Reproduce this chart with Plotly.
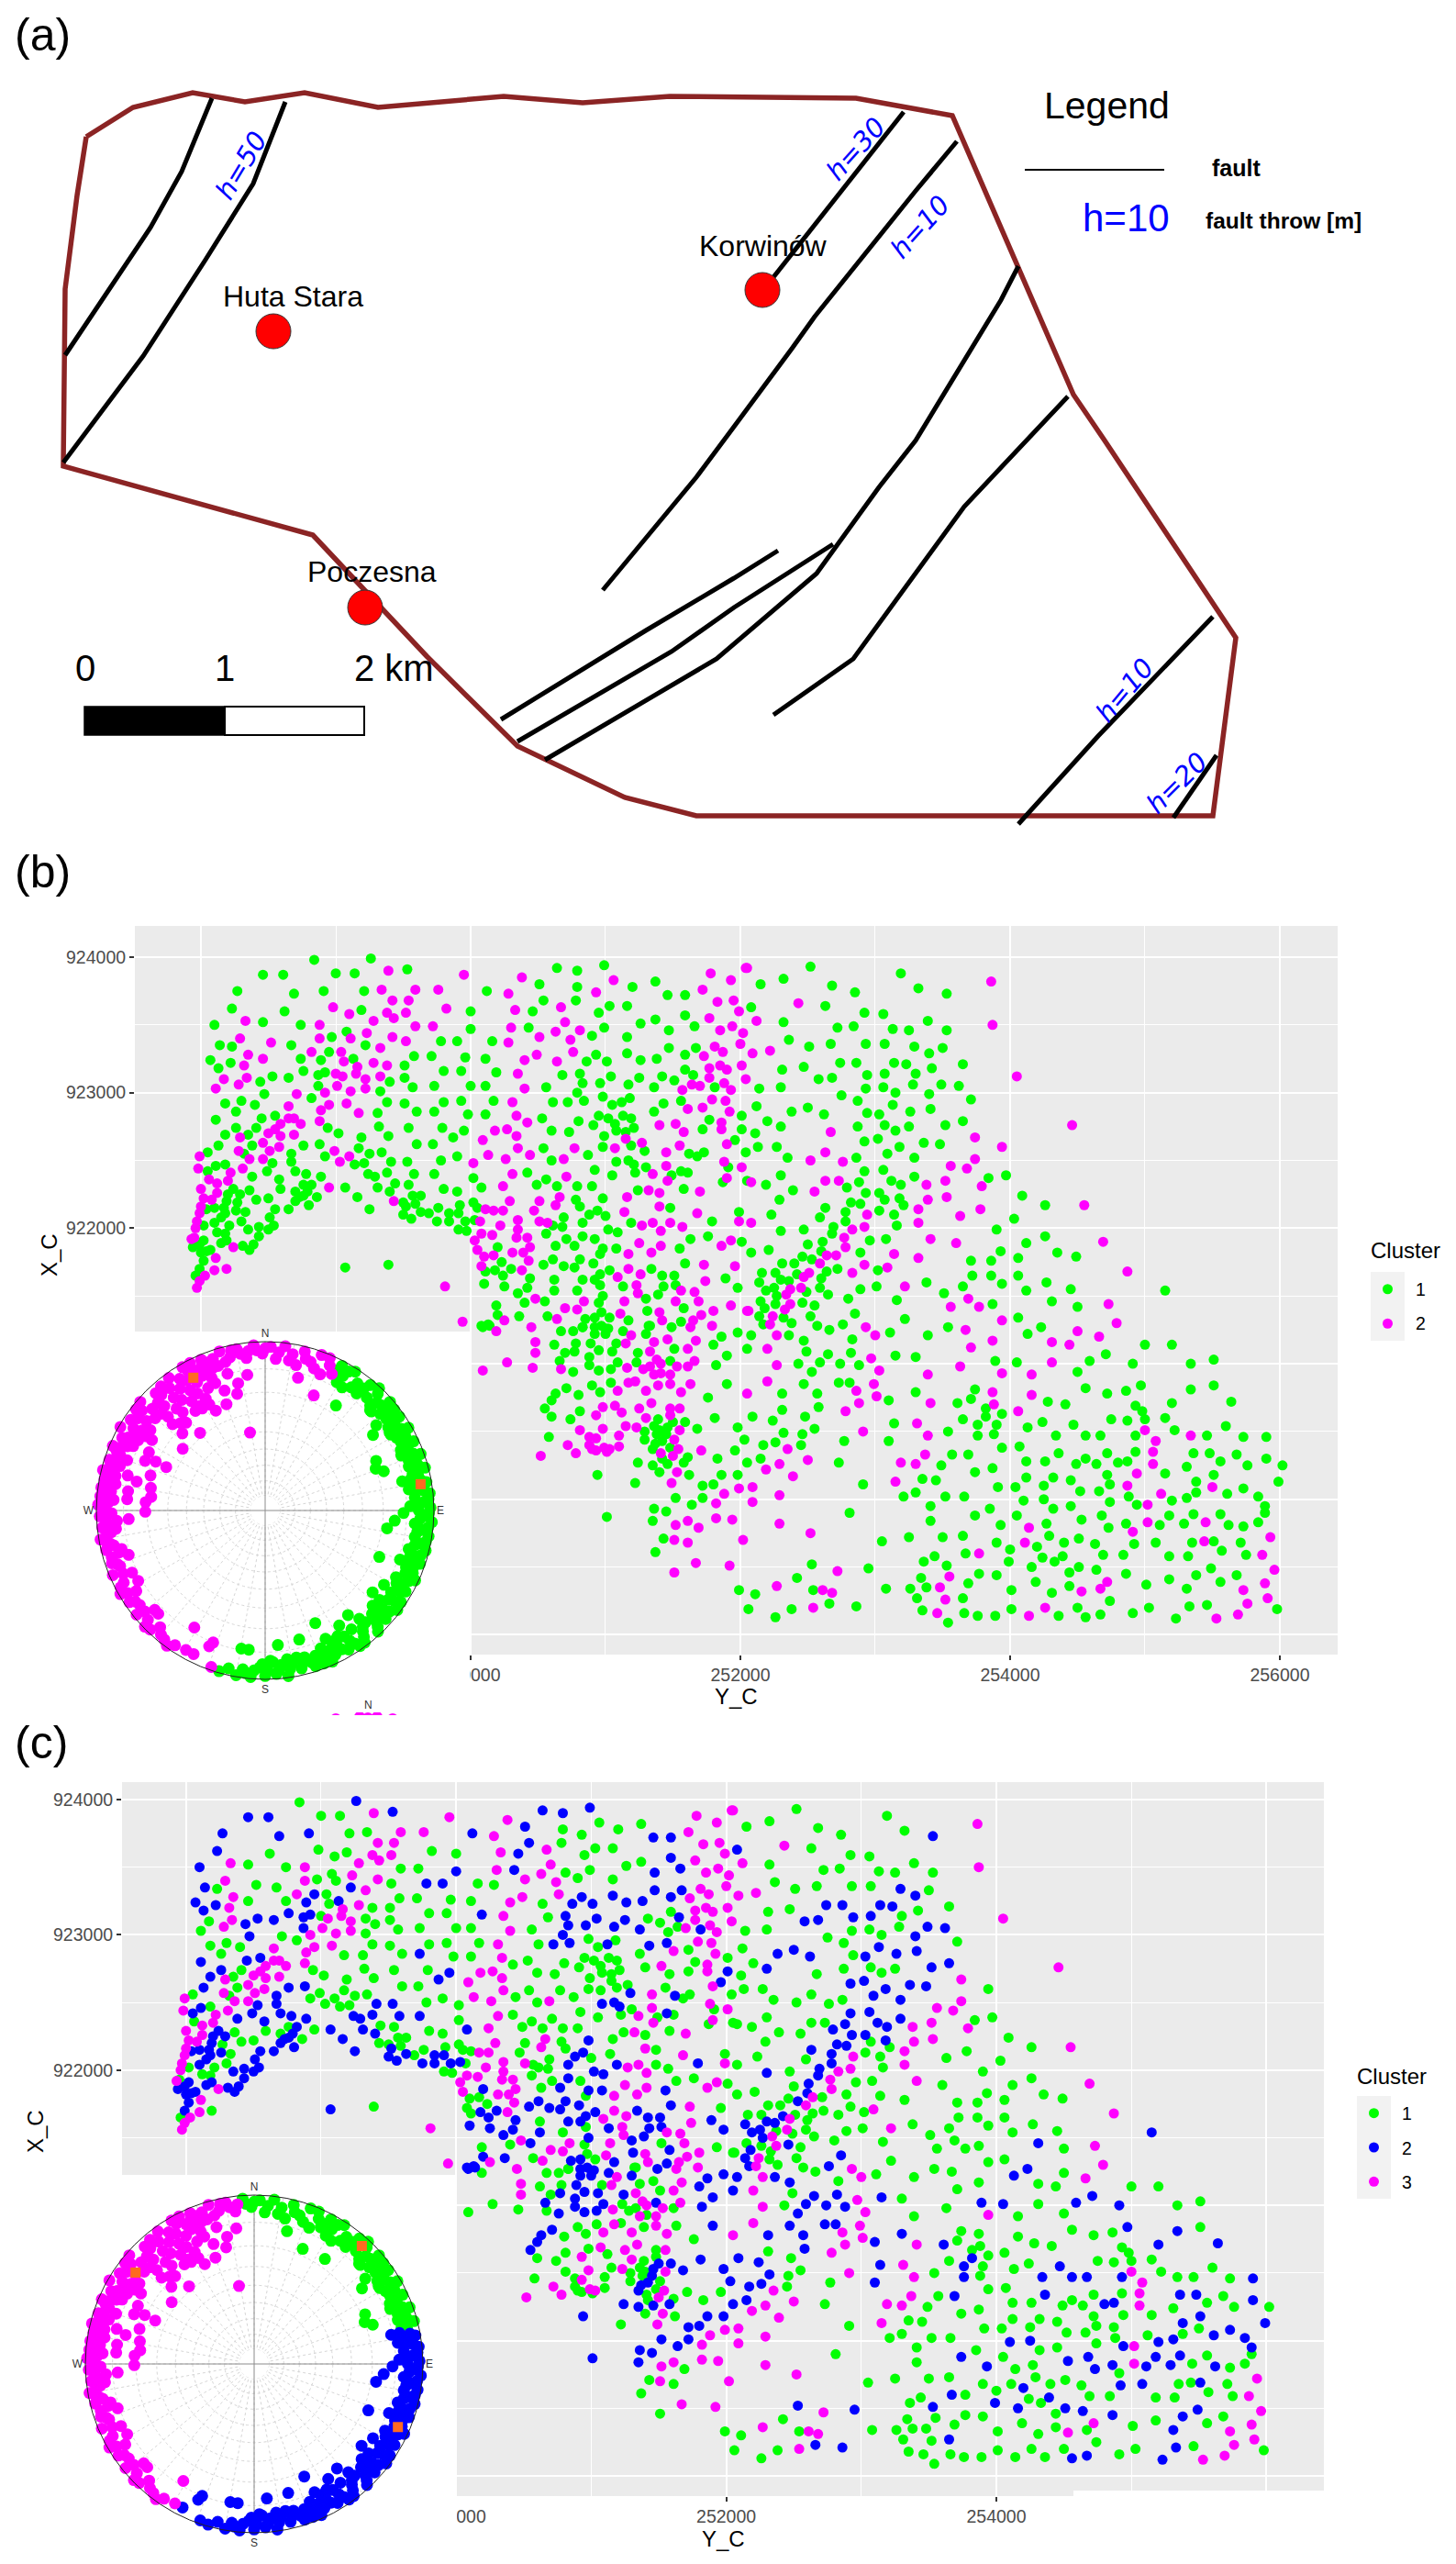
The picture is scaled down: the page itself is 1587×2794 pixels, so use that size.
#!/usr/bin/env python3
"""Fault map and clustered scatter maps with stereonet insets."""
import plotly.graph_objects as go

W, H = 1587, 2794
FONT = "Liberation Sans"
GREEN, BLUE, MAGENTA = "#00FF00", "#0000FF", "#FF00FF"

# ------------------------------------------------------------------ #
# Panel (a): map units
boundary = [(94, 149), (145, 117), (210, 101), (267, 111), (332, 101), (412, 117), (549, 105),
            (635, 112), (730, 105), (933, 107), (1038, 126), (1110, 290), (1170, 430), (1204, 480),
            (1347, 695), (1322, 889), (759, 889), (681, 869), (564, 813), (465, 715), (341, 583),
            (69, 508), (71, 315), (84, 213), (94, 149)]
faults = [
    [(231, 107), (198, 187), (164, 248), (71, 387)],
    [(311, 111), (276, 200), (224, 283), (156, 388), (87, 480), (69, 504)],
    [(985, 122), (832, 316)],
    [(1043, 154), (998, 208), (888, 345), (863, 380), (800, 465), (759, 520), (657, 643)],
    [(1110, 290), (1091, 327), (998, 480), (958, 531), (890, 625), (781, 718), (594, 828)],
    [(564, 808), (732, 710), (800, 662), (908, 593)],
    [(546, 784), (704, 687), (800, 630), (848, 600)],
    [(1164, 432), (1051, 552), (930, 718), (843, 779)],
    [(1322, 672), (1197, 802), (1110, 898)],
    [(1326, 823), (1279, 891)],
]
town_x = [298, 831, 398]
town_y = [361, 316, 662]

# ------------------------------------------------------------------ #
# Panels (b) and (c): same points, grouped by their cluster in c and b
c1_b1 = [(248840,923980),(249000,923880),(249140,923880),(250790,923780),(251200,923780),(249210,923750),
(250780,923680),(251370,923820),(248620,923600),(249190,923610),(250950,923590),(251030,923640),(251160,923640),
(248740,923500),(248460,923520),(250990,923480),(251260,923510),(251370,923540),(250000,923600),(248970,923410),
(249080,923450),(248670,923350),(248230,923340),(250160,923380),(250900,923420),(251160,923410),(248740,923250),
(249580,923270),(249710,923270),(249960,923260),(250110,923250),(249510,923200),(249800,923160),(249930,923160),
(250680,923130),(251590,923170),(249510,923110),(249400,923080),(251420,923120),(251510,923090),(249570,923040),
(249730,923050),(250000,923050),(250110,923050),(250560,923040),(249330,923010),(248820,922960),(248300,922940),
(249380,922930),(249800,922930),(249930,922940),(250170,922940),(248180,922920),(248400,922910),(249510,922920),
(250610,922930),(250980,922970),(251050,922910),(251180,922960),(248260,922860),(249600,922860),(249310,922850),
(250110,922840),(249980,922840),(250950,922830),(251130,922830),(251190,922810),(251360,922860),(252010,922830),
(250530,922810),(250800,922790),(251070,922770),(251020,922810),(251770,922800),(248410,922740),(248940,922740),
(249320,922750),(249540,922740),(249790,922740),(250600,922720),(250910,922760),(251080,922720),(251150,922710),
(251210,922740),(251720,922730),(249020,922700),(248350,922690),(250730,922710),(250990,922680),(249190,922670),
(249390,922680),(249600,922620),(249720,922620),(248380,922610),(249170,922590),(250540,922590),(250980,922600),
(251190,922610),(248050,922560),(249250,922550),(249340,922560),(250870,922540),(251680,922530),(251730,922560),
(252040,922560),(248320,922550),(248920,922530),(249900,922530),(250600,922500),(249780,922500),(248180,922470),
(249140,922470),(249210,922480),(251300,922450),(251910,922450),(250420,922410),(250920,922430),(251050,922390),
(251220,922410),(251490,922390),(251610,922410),(250020,922370),(249440,922330),(249540,922320),(250560,922360),
(250490,922320),(250640,922310),(250790,922310),(250900,922310),(251870,922340),(252050,922350),(248760,922320),
(251240,922280),(251580,922290),(248360,922280),(248590,922290),(248700,922270),(249800,922290),(249900,922270),
(249570,922240),(249630,922240),(248860,922230),(248270,922190),(248410,922210),(248500,922220),(250780,922210),
(249500,922190),(249590,922180),(249920,922170),(250020,922190),(250810,922160),(251480,922150),(248330,922120),
(249760,922150),(250050,922150),(251990,922120),(248300,922050),(249690,922110),(250690,922080),(251000,922090),
(250610,922020),(250680,922010),(248020,922020),(248210,922020),(250560,921960),(248120,921970),(248180,921960),
(249910,921990),(249970,921980),(250710,921920),(250920,921920),(251630,921920),(251760,921940),(252010,921900),
(250630,921870),(250960,921810),(250230,921750),(249390,921730),(247960,921650),(250110,921680),(250620,921620),
(250960,921580),(250790,921540),(250400,921450),(250190,921430),(250950,921450),(250970,921380),(250570,921350),
(251030,921340),(251320,921280),(250830,921270),
# middle crop
(250670,921240),(250760,921240),(250830,921270),(251330,921280),(250620,921140),(250780,921150),(250700,921080),
(251080,921150),(251510,921110),(251230,921010),(251040,920860),(250900,920840),(250960,920790),(250800,920770),
(251760,920750),(250810,920650),(250600,920610),(250740,920590),(251390,920590),(251360,920540),(251400,920510),
(251290,920500),(251380,920480),(250580,920460),(251290,920440),(251960,920360),(251830,920300),(251420,920300),
(251480,920380),(251610,920310),(251400,920200),(251620,920180),(251220,920120),(251430,919710),(251370,919610),
(251990,919330),
# right part
(252520,923930),(252320,923840),(252150,923800),(252680,923790),(252850,923740),(253190,923880),(253320,923770),
(252630,923640),(252920,923590),(253060,923580),(252320,923520),(252720,923480),(252840,923490),(253130,923470),
(253250,923460),(253390,923530),(253530,923460),(252360,923390),(252510,923340),(252670,923360),(252930,923360),
(253070,923360),(253500,923330),(253650,923210),(252310,923170),(252470,923190),(253300,923140),(253420,923180),
(252140,923030),(252300,923040),(252930,923030),(253060,923040),(253280,923060),(253150,923000),(252750,922980),
(252870,922940),(253710,922950),(252120,922900),(252940,922850),(252200,922790),(252870,922750),(253070,922760),
(253250,922750),(252110,922700),(253150,922720),(252130,922600),(252270,922600),(252350,922520),(252860,922520),
(252300,922390),(252190,922320),(253840,922370),(253970,922390),(252390,922280),(252290,922210),(254090,922240),
(253070,922210),(253030,922130),(253210,922170),(253140,922100),(254260,922170),(252230,922100),(252590,922080),
(254030,922070),(253160,922020),(252470,921990),(253900,921990),(252960,921910),(253080,921920),(254260,921940),
(254120,921890),(252500,921880),(252080,921820),(252210,921840),(252890,921820),(253930,921830),(254350,921820),
(254490,921790),(252460,921790),(254060,921780),(253710,921760),(253860,921760),(252310,921740),(252400,921740),
(252640,921680),(252720,921700),(253020,921690),(252160,921670),(252260,921670),(253860,921650),(253720,921650),
(254060,921650),(252600,921630),(253380,921600),(253940,921590),(253650,921570),(254270,921600),(252890,921550),
(253010,921570),(252590,921560),(254120,921540),(254450,921550),(253510,921520),(252650,921510),(252490,921530),
(252800,921480),(253160,921470),(252150,921460),(252260,921440),(252550,921430),(253870,921440),(254500,921420),
(252520,921350),(253220,921330),(252320,921340),(254060,921340),(252380,921300),(252570,921280),(253540,921270),
(252660,921250),(253110,921230),(253390,921210),(252830,921180),(255000,921140),(255200,921140),(252490,921090),
(253300,921050),(252430,921000),(255510,921030),(255340,921000),(254500,920940),(255510,920840),(254560,920820),
(254860,920800),(253740,920810),(254720,920780),(253710,920740),(254280,920720),(252310,920660),(254410,920700),
(254930,920690),(253820,920670),(254980,920650),(253940,920630),(252480,920610),(254750,920590),(255000,920590),
(254870,920580),(255150,920600),(253650,920590),(254240,920570),(252550,920520),(253900,920550),(254130,920530),
(255600,920540),(253540,920500),(253880,920480),(252460,920480),(255220,920510),(255460,920470),(255730,920460),
(252770,920430),(252450,920400),(253940,920380),(254070,920390),(253570,920330),(254720,920340),(254930,920350),
(255680,920330),(254120,920280),(254260,920280),(254560,920300),(252730,920270),(255560,920280),(253490,920250),
(253870,920230),(254490,920260),(254640,920260),(255310,920240),(255760,920250),(256020,920250),(253740,920200),
(254720,920180),(255150,920190),(253350,920150),(253450,920140),(254120,920160),(254320,920160),(254450,920140),
(252910,920110),(253910,920090),(254040,920090),(254250,920100),(254740,920110),(253300,920050),(253210,920020),
(253520,920020),(253660,920020),(254520,920060),(254660,920060),(255380,920050),(254880,920020),(254740,919980),
(253410,919950),(253850,919930),(254320,919930),(254450,919950),(255890,919900),(252810,919900),(254050,919880),
(253410,919840),(255560,919890),(254270,919820),(255730,919800),(255840,919830),(253500,919720),(253250,919720),
(253650,919730),(254290,919730),(253050,919690),(253900,919680),(254400,919680),(254510,919710),(254630,919670),
(255350,919680),(255710,919680),(254000,919630),(255570,919620),(253440,919580),(254240,919570),(254330,919540),
(254690,919590),(254840,919590),(255180,919580),(255320,919580),(255750,919590),(253360,919540),(254440,919460),
(253770,919450),(252420,919420),(253340,919420),(253900,919440),(255180,919410),(255680,919440),(255560,919390),
(253690,919380),(254190,919390),(255010,919370),(253080,919340),(253260,919340),(253380,919350),(254010,919330),
(254440,919360),(252540,919330),(252110,919300),(254310,919310),(253310,919270),(254740,919250),(255460,919220),
(253350,919180),(252380,919190),(252060,919190),(253660,919160),(253760,919140),(253890,919140),(254010,919190),
(254360,919140),(254500,919200),(254910,919160),(255030,919200),(255980,919190),(252260,919130),(253540,919090)]

c1_b2 = [(249340,923760),(248980,923630),(249100,923580),(248520,923370),(248460,923250),(249040,923300),(249110,923400),
(249060,923230),(249000,923140),(248710,922990),(248170,923100),(248110,923030),(249380,923200),(249330,923120),
(249520,923380),(249590,923490),(249720,923490),(249820,923620),(250280,923370),(249170,922850),(250930,923740),
(251060,923830),(250810,923460),(250640,923230),(251570,923020),(251640,923060),(251720,922890),(251550,922610),
(251400,922260),(251160,922230),(251140,922120),(250710,922380),(250440,922540),(250770,922590),(251070,922590),
(251270,922630),(251580,922710),(251150,922660),(250420,922780),(251400,922760),(250570,922040),(250470,922130),
(250510,922200),(250110,922140),(250070,922050),(249430,922200),(250020,922480),(249100,922530),(248990,922570),
(249030,922490),(248950,922300),(247950,921930),(248190,921700),(248060,922360),(250100,921790),(250170,921800),
(250080,921720),(251480,922040),(251570,922010),(251960,921720),(251520,921460),(251930,921430),(252050,921390),
# middle crop
(250190,921240),(251360,921160),(251460,921180),(250270,921010),(250090,920950),(250460,920970),(250670,920960),
(251280,920960),(251330,920980),(251610,920980),(251410,920930),(251220,920870),(251390,920840),(251630,920850),
(250980,920680),(251120,920640),(251480,920670),(251480,920620),(251150,920540),(250810,920510),(251100,920470),
(250880,920460),(251510,920440),(251100,920390),(250880,920400),(250900,920370),(250930,920360),(251010,920350),
(251710,920360),(251410,920340),(251690,919790),(251610,919680),(251510,919460),
# right part
(253670,921250),(253710,921120),(253870,921170),(253630,920980),(253390,920920),(253870,920790),(253880,920700),
(254060,920650),(254160,920920),(254160,920770),(254310,921160),(254440,921140),(254500,921240),(254310,921010),
(252670,922710),(252630,922560),(252520,922500),(252760,922490),(253940,922600),(252080,922340),(252630,922350),
(252730,922350),(252550,922270),(253780,922140),(253630,922090),(252080,922040),(253600,921890),(253140,921810),
(253320,921780),(252710,921800),(252920,921730),(252830,921670),(252510,921670),(252370,921550),(253690,921480),
(253560,921420),(253770,921420),(252330,921400),(252060,921390),(253940,921320),(255340,920470),(255500,920090),
(255450,919830),(255440,919690),(255120,920040),(254910,919760),(254870,920100),(254940,920190),(254140,919790),
(254110,919680),(253770,919600),(253550,919430),(253480,919350),(253520,919260),(253460,919160),(254140,919140),
(254260,919200),(254670,919340)]

c2_b1 = [(249260,923990),(249530,923910),(248460,923870),(248610,923870),(250640,923920),(250790,923900),(250990,923940),
(250120,923750),(248270,923750),(248690,923730),(248910,923750),(250510,923800),(250540,923680),(251460,923720),
(251590,923720),(248230,923620),(250460,923600),(251590,923570),(248100,923500),(250000,923470),(250430,923480),
(251660,923490),(248140,923350),(249780,923380),(249900,923380),(249220,923350),(248950,923300),(250930,923280),
(251470,923460),(251670,923330),(251470,923330),(248070,923240),(248220,923220),(248890,923240),(249130,923250),
(250860,923230),(251010,923230),(251160,923290),(251260,923240),(251380,923250),(251590,923280),(248130,923180),
(248760,923160),(250190,923150),(250810,923140),(248920,923150),(248870,923130),(248530,923120),(248650,923110),
(248440,923080),(251650,923130),(250830,923070),(248870,923050),(250960,923070),(251040,923120),(251170,923060),
(251250,923110),(251360,923040),(251810,923040),(248470,922990),(250790,923000),(250840,922940),(250720,922930),
(251120,922930),(251430,922920),(251560,922940),(249730,922860),(248450,922810),(248550,922830),(248110,922800),
(252010,922730),(248260,922740),(249950,922720),(248180,922690),(249870,922670),(248880,922620),(248130,922610),
(248760,922610),(251960,922650),(248670,922550),(251290,922570),(251620,922550),(248670,922490),(249410,922490),
(249530,922490),(251080,922490),(251170,922500),(251210,922470),(248110,922460),(248530,922480),(251560,922420),
(248050,922420),(248700,922420),(248490,922420),(249240,922400),(249380,922410),(249580,922400),(249730,922400),
(248380,922380),(248780,922400),(248890,922380),(249290,922380),(248580,922360),(250080,922300),(248240,922290),
(248820,922320),(249070,922300),(249310,922300),(248200,922250),(248290,922250),(248790,922270),(248730,922230),
(249400,922270),(250980,922220),(248190,922200),(248700,922200),(248760,922240),(249160,922230),(248100,922150),
(248170,922150),(248260,922130),(248800,922170),(248650,922140),(249520,922160),(248040,922140),(248180,922110),
(248550,922140),(249250,922140),(250880,922100),(250940,922130),(248100,922040),(248150,922080),(248510,922080),
(249500,922100),(249560,922070),(249630,922120),(249840,922110),(249910,922110),(249750,922050),(249840,922050),
(249960,922050),(250030,922060),(251190,922040),(251790,922050),(248540,922020),(248500,921990),(248430,922010),
(248350,921990),(250830,922040),(251020,921990),(251090,921970),(250830,921940),(248020,921910),(248190,921910),
(248430,921940),(247940,921860),(247990,921880),(248070,921840),(248150,921890),(248310,921870),(248390,921880),
(248360,921840),(250200,921860),(250770,921870),(250980,921850),(248000,921820),(248040,921830),(251080,921850),
(251550,921850),(248020,921760),(250610,921770),(250810,921770),(250910,921740),(251590,921740),(247990,921700),
(249070,921710),(250180,921690),(250300,921700),(250540,921730),(250690,921720),(250770,921710),(251030,921690),
(250240,921650),(250440,921630),(250960,921660),(250920,921620),(251340,921700),(251420,921650),(251510,921650),
(251890,921630),(250100,921590),(250830,921620),(251130,921570),(251430,921570),(251520,921580),(250250,921570),
(250420,921560),(251390,921510),(251980,921560),(250350,921520),(250620,921540),(250980,921500),(251300,921480),
(250550,921460),(251310,921390),(251580,921410),(250200,921360),(250360,921350),(250850,921330),(250920,921340),
(251170,921320),(251560,921310),(250080,921280),(250130,921290),(250920,921270),(250970,921280),
# middle crop
(250090,921270),(250140,921280),(251000,921260),(251020,921260),(250920,921220),(251000,921220),(251130,921240),
(251300,921220),(251490,921270),(251860,921200),(251980,921230),(250890,921150),(251800,921140),(250950,921100),
(251050,921090),(250770,921090),(251240,921080),(252050,921110),(250880,921050),(251900,921060),(250660,921020),
(251090,921010),(250880,920990),(250950,920950),(251040,920960),(251480,921020),(251820,920990),(250760,920940),
(251900,920850),(250710,920820),(250630,920780),(250600,920730),(250550,920670),(251810,920600),(251500,920570),
(251590,920570),(251680,920520),(251980,920530),(252030,920440),(251460,920530),(251450,920480),(251420,920430),
(251370,920410),(251350,920370),(252050,920270),(251240,920270),(251350,920250),(251460,920260),(251580,920270),
(250940,920180),(251860,920180),(251980,920180),(251720,920100),(251800,920110),(251520,920010),(251720,920010),
(251640,919960),(251360,919930),(251450,919910),(251350,919840),(251010,919870),
# right part
(252080,923630),(253530,923730),(253290,923340),(253400,923290),(252740,923220),(252860,923220),(253140,923220),
(253230,923210),(252940,923130),(253070,923140),(252580,923100),(252680,923110),(253400,922990),(253490,923060),
(253620,923050),(253130,922910),(253260,922860),(253410,922880),(252500,922890),(252380,922860),(252620,922840),
(253030,922840),(253520,922760),(253650,922790),(252300,922750),(252920,922640),(253020,922660),(253180,922600),
(253360,922630),(253480,922620),(253090,922550),(253290,922520),(252920,922420),(253060,922430),(253290,922380),
(252880,922340),(253120,922350),(253190,922320),(252790,922300),(252930,922260),(253030,922260),(253180,922220),
(252820,922190),(252890,922180),(252630,922150),(252780,922120),(252690,922010),(252780,922050),(252300,921980),
(252680,921960),(252610,921900),(252600,921830),(252530,921770),(252420,921660),(252360,921610),(252300,921620),
(252140,921600),(252250,921560),(252190,921540),(252270,921500),(252460,921450),(252180,921410),(252140,921350),
(252850,921370),(252170,921290),(252760,921290),(252360,921210),(252080,921210),(252470,921170),(252650,921070),
(252820,921080),(253150,921060),(252590,921010),(252740,921000),(252880,920990),(252530,920940),(252470,920850),
(252730,920860),(252810,920860),(252310,920780),(252570,920780),(253300,920790),(253100,920730),(253610,920710),
(252580,920680),(252090,920610),(252240,920580),(253140,920560),(252320,920490),(253760,920550),(253820,920610),
(253760,920470),(253100,920430),(252260,920420),(252170,920400),(252150,920300),(253690,920330),(254310,921460),
(254230,921270),(254130,921220),(254050,921010),(253890,921020),(254710,921070),(254590,921020),(254910,921000),
(254970,920840),(255150,921540),(255340,920810),(255200,920710),(255640,920720),(254470,920550),(254340,920470),
(254560,920470),(254670,920470),(254930,920470),(255900,920460),(255360,920340),(255480,920340),(255900,920300),
(254360,920340),(254800,920270),(254870,920280),(255510,920180),(255380,920130),(255730,920080),(255610,920040),
(255990,920130),(255840,920020),(255310,920010),(255200,919990),(254100,919990),(254250,920000),(254940,919960),
(255890,919950),(253740,919880),(253930,919810),(254530,919850),(254680,919880),(254730,919790),(254860,919820),
(255110,919810),(255180,919880),(255360,919890),(255290,919820),(255620,919810),(254920,919670),(255080,919680),
(255510,919690),(254200,919650),(254390,919580),(253670,919600),(253990,919540),(252530,919520),(253530,919510),
(252950,919490),(254160,919500),(254510,919500),(254640,919480),(254860,919450),(255380,919440),(255490,919490),
(255310,919340),(253650,919270),(252660,919230),(252860,919210),(255330,919210),(255230,919120),(254560,919130),
(254670,919150)]

c3_b2 = [(249390,923900),(249950,923870),(251780,923880),(251930,923830),(252040,923920),(250380,923850),(250280,923730),
(249590,923760),(249760,923760),(251720,923760),(249420,923680),(249540,923680),(251830,923670),(251950,923680),
(249380,923590),(249520,923590),(250330,923610),(250670,923630),(251990,923600),(251770,923550),(248330,923530),
(248880,923500),(249280,923530),(249430,923550),(250300,923480),(250700,923520),(251940,923490),(249230,923440),
(249420,923410),(248880,923400),(248290,923400),(250510,923410),(250630,923450),(251850,923460),(252020,923440),
(249330,923330),(248820,923300),(250740,923390),(250760,923300),(252000,923360),(251810,923340),(251870,923300),
(248350,923280),(250400,923240),(250490,923280),(251730,923270),(248320,923200),(249280,923220),(249160,923190),
(250350,923140),(251850,923200),(251770,923180),(251900,923170),(252010,923200),(249150,923140),(249050,923120),
(249220,923100),(248340,923110),(248280,923060),(252040,923100),(251770,923110),(249010,923050),(249220,923030),
(251700,923050),(251880,923070),(251930,923020),(249110,923010),(248920,923000),(250400,923030),(251790,922950),
(251890,922940),(250310,922930),(248650,922900),(248950,922910),(249080,922920),(251610,922880),(248890,922870),
(250340,922830),(251920,922860),(248650,922810),(248880,922790),(248690,922810),(251520,922770),(248740,922770),
(248590,922770),(251860,922780),(248550,922730),(248500,922700),(250270,922730),(250180,922720),(251860,922730),
(248690,922690),(248590,922680),(250340,922680),(250090,922650),(248290,922670),(248460,922630),(248580,922600),
(250350,922590),(251900,922620),(248280,922570),(248510,922570),(250130,922540),(251450,922560),(247990,922530),
(250260,922510),(250690,922510),(248360,922510),(248460,922510),(251450,922460),(251880,922490),(252010,922450),
(247980,922440),(248310,922440),(248220,922410),(250310,922400),(251350,922400),(251900,922370),(251460,922350),
(248200,922350),(248120,922330),(248000,922290),(250240,922310),(251320,922280),(251700,922270),(248120,922260),
(250660,922230),(248020,922220),(248080,922210),(250290,922200),(248000,922160),(251400,922160),(250630,922170),
(247990,922110),(250170,922130),(250240,922130),(251680,922110),(247970,922050),(250350,922060),(250510,922050),
(251990,922050),(247960,922000),(250220,922020),(250350,921990),(251270,922020),(251350,922040),(250080,921960),
(250160,921950),(251410,921980),(250420,921930),(250340,921930),(247930,921920),(250030,921910),(251930,921910),
(248240,921860),(250050,921840),(250440,921860),(251410,921870),(251250,921890),(251860,921870),(250390,921820),
(250310,921820),(251170,921810),(251340,921820),(248110,921780),(250430,921760),(251730,921730),(248100,921690),
(251170,921700),(248030,921650),(250380,921690),(251090,921640),(251260,921660),(251740,921610),(247990,921610),
(251230,921580),(251560,921540),(247970,921560),(249810,921570),(251240,921520),(251660,921530),(250480,921480),
(250840,921460),(251140,921460),(251690,921460),(250700,921410),(250790,921400),(251400,921380),(251800,921390),
(251110,921370),(250640,921330),(251420,921320),(251650,921320),(249940,921310),(250250,921320),(251710,921360),
# middle crop
(250450,921270),(250480,921160),(250480,921080),(251190,921210),(251150,921150),(251630,921270),(251790,921280),
(251670,921170),(251610,921110),(251330,921090),(251380,921030),(251410,921000),(251660,921020),(251530,920980),
(251160,920970),(251480,920920),(251360,920920),(251480,920850),(251170,920860),(251090,920800),(251300,920800),
(251560,920790),(252050,920780),(251340,920710),(251070,920690),(251250,920670),(251550,920670),(250930,920620),
(251300,920600),(251230,920530),(251550,920510),(250980,920520),(250930,920450),(250720,920400),(250780,920340),
(250520,920320),(250990,920380),(251030,920370),(251540,920370),(251500,920320),(251530,920200),(251490,920120),
(251990,920080),(251880,920040),(251820,919970),(251820,919860),(251940,919850),(251610,919840),(251520,919810),
(251510,919700),(252020,919700),(251670,919530),(251920,919510),
# right part
(252050,923920),(253860,923820),(252430,923660),(252120,923530),(253870,923500),(252220,923310),(252090,923290),
(254050,923120),(254460,922760),(253740,922670),(253740,922510),(253560,922460),(253680,922440),(253380,922320),
(253520,922350),(253790,922310),(253390,922210),(253530,922230),(254550,922170),(253320,922140),(252940,922100),
(253320,922040),(252920,922010),(252830,921990),(253410,921920),(252770,921930),(252780,921860),(254690,921900),
(252640,921800),(252590,921740),(254870,921680),(253090,921710),(252470,921640),(253220,921570),(252450,921560),
(252340,921510),(252370,921440),(254730,921440),(254790,921300),(252240,921350),(252220,921290),(252930,921270),
(253000,921210),(254660,921200),(252270,921210),(252200,921110),(252270,920990),(252970,921040),(253030,920950),
(253940,920930),(252200,920870),(252990,920850),(253010,920760),(252860,920800),(253410,920710),(252880,920710),
(252780,920650),(253310,920560),(253390,920470),(252910,920500),(255000,920510),(255080,920430),(255060,920350),
(255060,920260),(252350,920370),(253370,920330),(252500,920290),(252290,920260),(252190,920220),(252390,920170),
(253190,920270),(253300,920260),(253150,920130),(252090,920090),(252290,920030),(252090,919980),(255020,919960),
(255020,919830),(252290,919820),(252520,919750),(252720,919470),(255930,919720),(255870,919590),(255960,919480),
(254720,919390),(255890,919380),(252270,919360),(252610,919330),(252680,919310),(254530,919320),(255730,919330),
(255760,919230),(255910,919270),(252540,919200),(255690,919150),(255530,919120)]

# stereonet poles: azimuth [deg], projected radius (1 = rim)
pole_pts = [(22.9,.74),(13.9,.81),(34,.75),(29.2,.87),(349,.47),(352.5,.81),(348,.77),(346.5,.71),(340,.67),(341.3,.75),
(344.6,.84),(338.6,.81),(333.7,.66),(332.2,.71),(328.3,.71),(320,.60),(313,.67),(306.8,.61),(293.7,.64),(294.1,.71),
(287,.71),(292.5,.77),(296.6,.77),(301.9,.79),(302,.83),(282.7,.78),(284.3,.84),(281.2,.69),(276.8,.68),(274,.71),
(269.4,.71),(278,.82),(274.7,.82),(266.4,.81),(241,.86),(226,.88),(211.2,.81),(201.5,.84),(202.4,.87),(213.8,.96),
(209.6,.95),(206.5,.95),(189.8,.83),(186.7,.83),(174.6,.80),(165.2,.79),(156,.73),(147.2,.81),(141.6,.79),(154.8,.84),
(127.3,.80),(131.5,.85),(112.1,.73),(98.3,.73),(94.5,.77),(91,.82),(88.3,.86),(78,.83),(81.6,.86),(71.7,.74),(69.3,.70),
(65.9,.72),(55,.78),(52.5,.83),(58.9,.87),(46.3,.86),(171.6,.89),(178,.89),(150,.86),
(337,.97),(341,.95),(344,.98),(347,.93),(350,.97),(353,.91),(356,.98),(359,.93),(2,.97),(4,.9),(7,.98),(10,.94),(12,.88),
(14,.97),(17,.92),(20,.98),(22,.87),(24,.94),(26,.9),(28,.97),(30,.92),(32,.86),(33,.98),(36,.93),(38,.88),(40,.97),(42,.9),
(44,.96),(46,.92),(47,.86),(49,.98),(51,.94),(53,.9),(55,.97),(57,.92),(58,.87),(60,.98),(62,.94),(63,.9),(65,.97),(67,.92),
(68,.87),(70,.98),(72,.94),(73,.89),(75,.98),(77,.93),(78,.88),(80,.97),(82,.92),(84,.98),(85,.89),(87,.94),(89,.98),(90,.91),
(92,.95),(94,.99),(95,.89),(97,.94),(99,.98),(100,.9),(102,.94),(104,.98),(105,.88),(107,.93),(109,.97),(110,.85),(112,.9),
(113,.95),(115,.98),(117,.87),(118,.92),(120,.96),(122,.83),(123,.89),(125,.94),(127,.98),(128,.86),(130,.91),(132,.96),
(134,.88),(135,.93),(137,.98),(139,.85),(140,.9),(142,.95),(144,.87),(145,.98),(147,.92),(149,.96),(150,.86),(152,.9),
(154,.95),(156,.98),(158,.88),(160,.93),(162,.97),(165,.9),(167,.96),(170,.92),(172,.99),(175,.95),(177,.9),(180,.98),
(182,.93),(185,.99),(188,.95),(190,.99),(193,.96),(196,.99),(199,.98),
(218,.97),(222,.93),(224,.98),(227,.95),(228,.88),(231,.98),(233,.93),(236,.97),(238,.9),(240,.99),(243,.94),(245,.87),
(247,.98),(249,.92),(251,.96),(252,.85),(254,.9),(256,.97),(258,.94),(260,.99),(262,.92),(264,.97),(266,.88),(268,.98),
(270,.94),(272,.99),(274,.9),(276,.95),(278,.98),(280,.9),(282,.94),(284,.99),(286,.93),(288,.97),(290,.87),(291,.92),
(293,.98),(295,.9),(297,.95),(299,.86),(300,.99),(302,.92),(304,.96),(305,.83),(307,.88),(309,.94),(311,.98),(313,.75),
(313,.84),(315,.9),(317,.95),(318,.7),(319,.8),(321,.86),(322,.92),(324,.97),(325,.72),(326,.78),(328,.84),(329,.9),
(331,.95),(332,.75),(333,.98),(335,.8),(335,.88),(336,.93),(338,.85),(340,.9),
(5,.94),(9,.9),(15,.93),(19,.89),(23,.98),(27,.93),(31,.96),(35,.89),(39,.93),(43,.99),(45,.88),(48,.93),(50,.89),(52,.97),
(54,.93),(56,.88),(59,.94),(61,.89),(64,.94),(66,.88),(69,.94),(71,.9),(74,.95),(76,.9),(79,.94),(81,.89),(83,.95),(86,.97),
(88,.91),(91,.97),(93,.92),(96,.97),(98,.91),(101,.97),(103,.91),(106,.96),(108,.9),(111,.94),(114,.91),(116,.95),(119,.89),
(121,.93),(124,.97),(126,.9),(129,.95),(131,.88),(133,.93),(136,.96),(138,.89),(141,.92),(143,.98),(146,.95),(148,.88),
(151,.94),(153,.87),(155,.91),(157,.94),(159,.97),(161,.91),(163,.94),(166,.93),(168,.89),(171,.95),(174,.92),(176,.97),
(179,.95),(181,.91),(184,.95),(187,.97),
(216,.99),(220,.96),(226,.99),(230,.93),(235,.94),(239,.95),(242,.97),(246,.92),(250,.93),(253,.95),(255,.88),(257,.92),
(259,.96),(261,.95),(263,.89),(265,.93),(267,.95),(269,.91),(271,.96),(273,.93),(275,.98),(277,.92),(279,.95),(281,.97),
(283,.91),(285,.96),(287,.9),(289,.94),(292,.95),(294,.93),(296,.87),(298,.92),(301,.89),(303,.87),(306,.93),(308,.97),
(310,.85),(312,.9),(314,.8),(316,.72),(316,.86),(318,.92),(320,.76),(320,.96),(323,.82),(325,.88),(327,.93),(328,.73),
(330,.8),(330,.98),(332,.86),(334,.92),(337,.9),(339,.94),(342,.9),(345,.91),(348,.97),(351,.94),(354,.95),(357,.95),(0,.96)]
# azimuth limits of the clusters on each net
limits_b = (27, 199)
limits_c = (356, 78, 207)
centroids_b = [(331.6, .894), (80.4, .934)]
centroids_c = [(42.4, .946), (307.6, .887), (113.7, .93)]
net_rings = [0.087, 0.176, 0.268, 0.364, 0.466, 0.577, 0.700, 0.839]
net_ticks = [0, 30, 60, 90, 120, 150, 180, 210, 240, 270, 300, 330]
peek_x = [366, 376, 392, 401, 411, 428, 438]
peek_y = [1873, 1875, 1871, 1872, 1871, 1873, 1875]


# ------------------------------------------------------------------ #
def dom_x(left, right):
    return [left / W, right / W]


def dom_y(top, bottom):
    return [1 - bottom / H, 1 - top / H]


def xs(*groups):
    return [p[0] for g in groups for p in g]


def ys(*groups):
    return [p[1] for g in groups for p in g]


def note(text, x, y, size, color="black", angle=0, family=FONT):
    return dict(text=text, x=x / W, y=1 - y / H, xref="paper", yref="paper", showarrow=False,
                xanchor="center", yanchor="middle", textangle=angle,
                font=dict(family=family, size=size, color=color))


def hidden(num, left, right, top, bottom, xr=(0, 1), yr=(0, 1)):
    ax = dict(visible=False, fixedrange=True, automargin=False)
    xid, yid = ("x", "y") if num == 1 else (f"x{num}", f"y{num}")
    return (dict(ax, domain=dom_x(left, right), range=list(xr), anchor=yid),
            dict(ax, domain=dom_y(top, bottom), range=list(yr), anchor=xid))


def panel_axes(num, left, right, top, bottom, xr, yr):
    tick = dict(ticks="outside", ticklen=5, tickwidth=1.5, tickcolor="#333333", showline=False, zeroline=False,
                tickformat="d", tickfont=dict(family=FONT, size=19.5, color="#4D4D4D"), gridcolor="white",
                gridwidth=2, layer="below traces", automargin=False)
    xax = dict(tick, domain=dom_x(left, right), range=xr, tickvals=[248000, 250000, 252000, 254000, 256000],
               anchor=f"y{num}",
               minor=dict(tickvals=[249000, 251000, 253000, 255000], showgrid=True, gridcolor="white", gridwidth=1))
    yax = dict(tick, domain=dom_y(top, bottom), range=yr, tickvals=[919000, 920000, 921000, 922000, 923000, 924000],
               anchor=f"x{num}",
               minor=dict(tickvals=[919500, 920500, 921500, 922500, 923500], showgrid=True, gridcolor="white", gridwidth=1))
    return xax, yax


def in_sector(az, low, high):
    return low <= az < high if low < high else az >= low or az < high


def add_dots(fig, groups, color, axis):
    fig.add_trace(go.Scatter(x=xs(*groups), y=ys(*groups), mode="markers", showlegend=False, hoverinfo="skip",
                             marker=dict(color=color, size=11), xaxis=f"x{axis}", yaxis=f"y{axis}"))


def add_mask(fig, axis):
    fig.add_trace(go.Scatter(x=[0, 1, 1, 0, 0], y=[0, 0, 1, 1, 0], mode="none", fill="toself", fillcolor="white",
                             showlegend=False, hoverinfo="skip", xaxis=f"x{axis}", yaxis=f"y{axis}"))


def add_net(fig, subplot, sectors, centroids):
    rim = list(range(0, 361, 5))
    fig.add_trace(go.Scatterpolar(r=[net_rings[0]] * len(rim), theta=rim, mode="none", fill="toself", fillcolor="white",
                                  subplot=subplot, showlegend=False, hoverinfo="skip"))
    for theta in ([0, 180], [90, 270]):
        fig.add_trace(go.Scatterpolar(r=[1, 1], theta=theta, mode="lines", line=dict(color="#8C8C8C", width=1),
                                      subplot=subplot, showlegend=False, hoverinfo="skip"))
    tick_theta = [v for t in net_ticks for v in (t, t, None)]
    tick_r = [v for t in net_ticks for v in (1, 1.025, None)]
    fig.add_trace(go.Scatterpolar(r=tick_r, theta=tick_theta, mode="lines", line=dict(color="#222222", width=1),
                                  cliponaxis=False, subplot=subplot, showlegend=False, hoverinfo="skip"))
    for low, high, color in sectors:
        pts = [p for p in pole_pts if in_sector(p[0], low, high)]
        fig.add_trace(go.Scatterpolar(theta=[p[0] for p in pts], r=[p[1] for p in pts], mode="markers",
                                      marker=dict(color=color, size=13), subplot=subplot, showlegend=False,
                                      hoverinfo="skip"))
    fig.add_trace(go.Scatterpolar(theta=[p[0] for p in centroids], r=[p[1] for p in centroids], mode="markers",
                                  marker=dict(color="#FF6A21", size=11, symbol="square"), subplot=subplot,
                                  showlegend=False, hoverinfo="skip"))


def polar_layout(cx, cy, radius=184):
    ang = list(range(0, 360, 10))
    text = {0: "N", 90: "E", 180: "S", 270: "W"}
    return dict(
        domain=dict(x=dom_x(cx - radius, cx + radius), y=dom_y(cy - radius, cy + radius)),
        bgcolor="white",
        radialaxis=dict(range=[0, 1], tickvals=net_rings, showticklabels=False, ticks="", showline=False,
                        gridcolor="#D6D6D6", griddash="dot", gridwidth=1),
        angularaxis=dict(direction="clockwise", rotation=90, tickmode="array", tickvals=ang,
                         ticktext=[text.get(a, "") for a in ang], gridcolor="#D6D6D6", griddash="dot",
                         linecolor="#222222", linewidth=1, ticks="",
                         tickfont=dict(family=FONT, size=12, color="#333333")),
    )


# ------------------------------------------------------------------ #
fig = go.Figure()

# Subplot 1: the fault map
fig.add_trace(go.Scatter(x=xs(boundary), y=ys(boundary), mode="lines", line=dict(color="#8B2424", width=5.5),
                         showlegend=False, hoverinfo="skip"))
for fault in faults:
    fig.add_trace(go.Scatter(x=xs(fault), y=ys(fault), mode="lines", line=dict(color="black", width=5),
                             showlegend=False, hoverinfo="skip"))
fig.add_trace(go.Scatter(x=[1117, 1269], y=[185, 185], mode="lines", line=dict(color="black", width=2),
                         showlegend=False, hoverinfo="skip"))
fig.add_trace(go.Scatter(x=town_x, y=town_y, mode="markers", showlegend=False, hoverinfo="skip",
                         marker=dict(color="#FF0000", size=38, line=dict(color="#333333", width=1))))

# Subplot 2: clusters of panel (b), then its inset mask and the clipped net below it
add_dots(fig, [c1_b1, c2_b1], GREEN, 2)
add_dots(fig, [c3_b2, c1_b2], MAGENTA, 2)
add_mask(fig, 3)
fig.add_trace(go.Scatter(x=peek_x, y=peek_y, mode="markers", marker=dict(color=MAGENTA, size=12), showlegend=False,
                         hoverinfo="skip", xaxis="x4", yaxis="y4"))

# Subplot 5: clusters of panel (c), then its masks
add_dots(fig, [c1_b1, c1_b2], GREEN, 5)
add_dots(fig, [c2_b1], BLUE, 5)
add_dots(fig, [c3_b2], MAGENTA, 5)
add_mask(fig, 6)
add_mask(fig, 7)

# Legend keys
fig.add_trace(go.Scatter(x=[0, 0], y=[2, 1], mode="markers", marker=dict(color=[GREEN, MAGENTA], size=11),
                         showlegend=False, hoverinfo="skip", xaxis="x8", yaxis="y8"))
fig.add_trace(go.Scatter(x=[0, 0, 0], y=[3, 2, 1], mode="markers", marker=dict(color=[GREEN, BLUE, MAGENTA], size=11),
                         showlegend=False, hoverinfo="skip", xaxis="x9", yaxis="y9"))

# Stereonets
add_net(fig, "polar", [(limits_b[0], limits_b[1], GREEN), (limits_b[1], limits_b[0], MAGENTA)], centroids_b)
add_net(fig, "polar2", [(limits_c[0], limits_c[1], GREEN), (limits_c[1], limits_c[2], BLUE),
                        (limits_c[2], limits_c[0], MAGENTA)], centroids_c)

xb, yb = panel_axes(2, 147, 1458, 1009, 1803, [247510, 256429], [918854, 924230])
xc, yc = panel_axes(5, 133, 1443, 1942, 2720, [247526, 256425], [918851, 924129])
x3, y3 = hidden(3, 0, 512, 1451, 1868)
x4, y4 = hidden(4, 361, 442, 1866, 1869, (361, 442), (1869, 1866))
x6, y6 = hidden(6, 0, 498, 2370, 2794)
x7, y7 = hidden(7, 1170, 1470, 2714, 2794)
x8, y8 = hidden(8, 1494, 1531, 1386, 1461, (-1, 1), (0.5, 2.5))
x9, y9 = hidden(9, 1479, 1516, 2284, 2396, (-1, 1), (0.5, 3.5))
x1, y1 = hidden(1, 0, W, 0, 900, (0, W), (900, 0))


def gray_rect(ref, xr, yr, color):
    return dict(type="rect", xref=f"x{ref}", yref=f"y{ref}", x0=xr[0], x1=xr[1], y0=yr[0], y1=yr[1],
                fillcolor=color, line_width=0, layer="below")


shapes = [
    gray_rect(2, xb["range"], yb["range"], "#EBEBEB"),
    gray_rect(5, xc["range"], yc["range"], "#EBEBEB"),
    gray_rect(8, (-1, 1), (0.5, 2.5), "#F2F2F2"),
    gray_rect(9, (-1, 1), (0.5, 3.5), "#F2F2F2"),
    # scale bar in panel (a)
    dict(type="rect", xref="x", yref="y", x0=92, x1=245, y0=770, y1=801, fillcolor="black", line=dict(color="black", width=1.5)),
    dict(type="rect", xref="x", yref="y", x0=245, x1=397, y0=770, y1=801, fillcolor="white", line=dict(color="black", width=2)),
]

annotations = [
    note("(a)", 46, 38, 50), note("(b)", 46, 950, 50), note("(c)", 45, 1899, 50),
    note("Huta Stara", 319, 323, 32), note("Korwinów", 832, 268, 32), note("Poczesna", 405, 623, 32),
    note("0", 93, 728, 40), note("1", 245, 728, 40), note("2 km", 429, 728, 40),
    note("Legend", 1206, 115, 41),
    note("<b>fault</b>", 1347, 183, 25), note("<b>fault throw [m]</b>", 1399, 240, 24.5),
    note("h=10", 1227, 238, 42, "#0000FF"),
    note("<i>h=50</i>", 263, 180, 29, "#0000FF", -59, "DejaVu Sans"),
    note("<i>h=30</i>", 933, 162, 29, "#0000FF", -48, "DejaVu Sans"),
    note("<i>h=10</i>", 1003, 247, 29, "#0000FF", -48, "DejaVu Sans"),
    note("<i>h=10</i>", 1226, 752, 29, "#0000FF", -50, "DejaVu Sans"),
    note("<i>h=20</i>", 1283, 853, 29, "#0000FF", -45, "DejaVu Sans"),
    note("X_C", 53, 1368, 24, angle=-90), note("Y_C", 802, 1848, 24),
    note("X_C", 38, 2323, 24, angle=-90), note("Y_C", 788, 2766, 24),
    note("Cluster", 1532, 1363, 24), note("1", 1548, 1405, 19.5), note("2", 1548, 1442, 19.5),
    note("Cluster", 1517, 2262, 24), note("1", 1533, 2303, 19.5), note("2", 1533, 2341, 19.5), note("3", 1533, 2378, 19.5),
    note("N", 401, 1858, 12, "#333333"),
]

fig.update_layout(
    width=W, height=H, margin=dict(l=0, r=0, t=0, b=0), autosize=False,
    paper_bgcolor="white", plot_bgcolor="white", showlegend=False,
    xaxis=x1, yaxis=y1, xaxis2=xb, yaxis2=yb, xaxis3=x3, yaxis3=y3, xaxis4=x4, yaxis4=y4,
    xaxis5=xc, yaxis5=yc, xaxis6=x6, yaxis6=y6, xaxis7=x7, yaxis7=y7, xaxis8=x8, yaxis8=y8, xaxis9=x9, yaxis9=y9,
    polar=polar_layout(289, 1646), polar2=polar_layout(277, 2576),
    shapes=shapes, annotations=annotations,
)

fig.write_html("out.html", config={"displayModeBar": False}, post_script="document.body.style.margin='0';")
